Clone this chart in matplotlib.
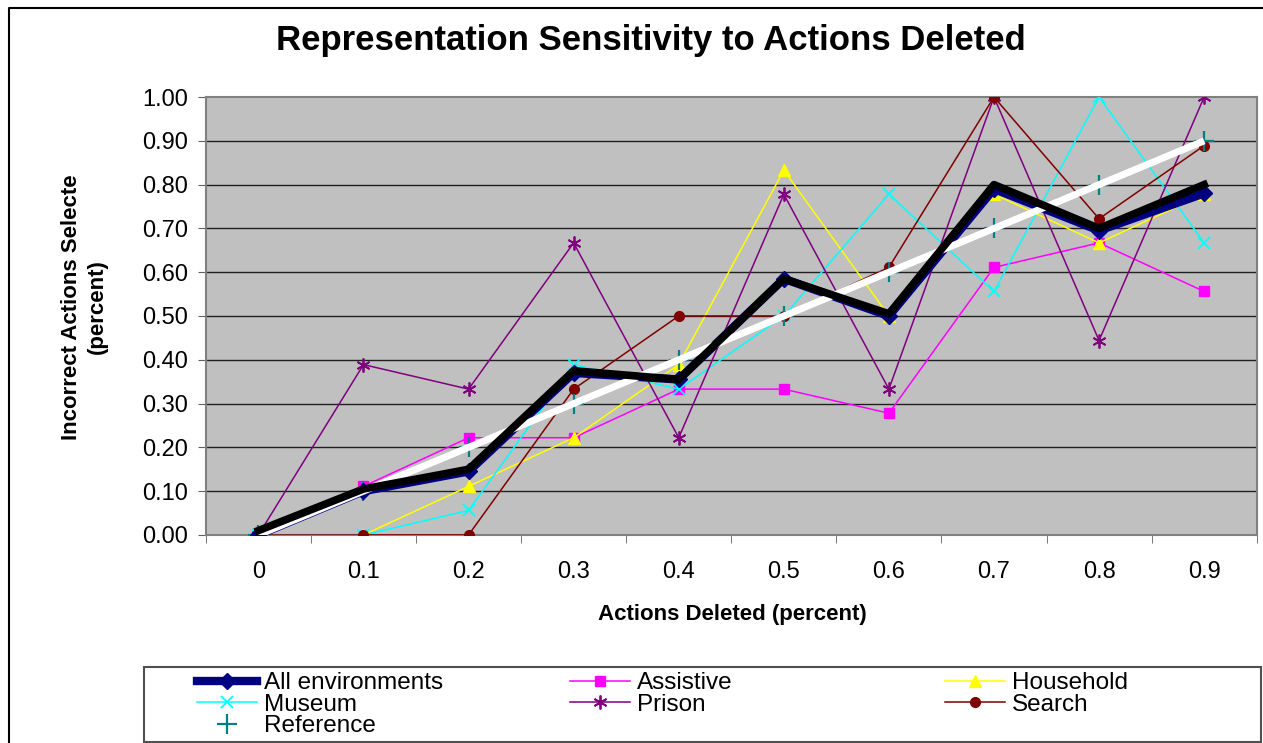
import matplotlib
matplotlib.use("Agg")
import matplotlib.pyplot as plt
from matplotlib.lines import Line2D
from matplotlib.patches import Rectangle

plt.rcParams["font.family"] = ["Liberation Sans", "DejaVu Sans"]

# --- data ---
categories = ["0", "0.1", "0.2", "0.3", "0.4", "0.5", "0.6", "0.7", "0.8", "0.9"]
all_env = [0.0, 0.10, 0.145, 0.37, 0.355, 0.585, 0.50, 0.79, 0.695, 0.78]
overall = [0.01, 0.105, 0.15, 0.375, 0.355, 0.585, 0.505, 0.80, 0.70, 0.80]
assistive = [0.0, 0.111, 0.222, 0.222, 0.333, 0.333, 0.278, 0.611, 0.667, 0.556]
household = [0.0, 0.0, 0.111, 0.222, 0.389, 0.833, 0.50, 0.778, 0.667, 0.778]
museum = [0.0, 0.0, 0.056, 0.389, 0.333, 0.50, 0.778, 0.556, 1.0, 0.667]
prison = [0.0, 0.389, 0.333, 0.667, 0.222, 0.778, 0.333, 1.0, 0.444, 1.0]
search = [0.0, 0.0, 0.0, 0.333, 0.50, 0.50, 0.611, 1.0, 0.722, 0.889]
reference = [0.0, 0.1, 0.2, 0.3, 0.4, 0.5, 0.6, 0.7, 0.8, 0.9]
y_ticks = [0.0, 0.1, 0.2, 0.3, 0.4, 0.5, 0.6, 0.7, 0.8, 0.9, 1.0]

x = list(range(len(categories)))
thin = 1.1
W, H = 1263, 743

# style per series (shared by plot and legend)
styles = {
    "All environments": dict(color="#000080", lw=6, marker="D", ms=8),
    "Assistive": dict(color="#FF00FF", lw=thin, marker="s", ms=7),
    "Household": dict(color="#FFFF00", lw=thin, marker="^", ms=9),
    "Museum": dict(color="#00FFFF", lw=thin, marker="x", ms=9, mew=1.3),
    "Prison": dict(color="#800080", lw=thin, marker=(6, 2, 0), ms=10, mew=1.3),
    "Search": dict(color="#800000", lw=thin, marker="o", ms=7),
    "Reference": dict(color="#008080", lw=0, marker="+", ms=14, mew=1.6),
}

fig = plt.figure(figsize=(12.63, 7.43), dpi=100)
ax = fig.add_axes([0.163, 0.280, 0.832, 0.5894])
ax.set_facecolor("#C0C0C0")

for yv in y_ticks[1:-1]:
    ax.axhline(yv, color="#202020", lw=1.0, zorder=1)

ax.plot(x, assistive, zorder=3, **styles["Assistive"])
ax.plot(x, household, zorder=3, **styles["Household"])
ax.plot(x, museum, zorder=3, **styles["Museum"])
ax.plot(x, prison, zorder=3, **styles["Prison"])
ax.plot(x, search, zorder=3, **styles["Search"])
ax.plot(x, reference, zorder=3, **styles["Reference"])
ax.plot(x, all_env, zorder=4, **styles["All environments"])
ax.plot(x, reference, color="white", lw=5, zorder=5, solid_capstyle="butt")
ax.plot(x, overall, color="black", lw=5.5, zorder=6)

ax.set_xlim(-0.5, 9.5)
ax.set_ylim(0, 1.0)
ax.set_xticks(x)
ax.set_xticklabels(categories, fontsize=17)
ax.set_xticks([i - 0.5 for i in range(11)], minor=True)
ax.tick_params(axis="x", which="major", length=0, pad=19)
ax.tick_params(axis="x", which="minor", length=6, color="#606060", direction="out")
ax.set_yticks(y_ticks)
ax.set_yticklabels([f"{v:.2f}" for v in y_ticks], fontsize=17)
ax.tick_params(axis="y", length=6, color="#606060", direction="out", pad=7)
for s in ax.spines.values():
    s.set_color("#808080")
    s.set_linewidth(1.5)

fig.text(0.515, 0.946, "Representation Sensitivity to Actions Deleted",
         ha="center", va="center", fontsize=25, fontweight="bold")
fig.text(0.58, 0.1736, "Actions Deleted (percent)", ha="center", va="center",
         fontsize=16, fontweight="bold")
fig.text(0.0665, 0.587, "Incorrect Actions Selecte\n(percent)", ha="center",
         va="center", fontsize=16, fontweight="bold", rotation=90, linespacing=1.3)

# --- legend: three columns placed like the original ---
legend_cols = [
    (["All environments", "Museum", "Reference"], 0.1563),
    (["Assistive", "Prison"], 0.4515),
    (["Household", "Search"], 0.7485),
]
for names, x0 in legend_cols:
    hs = [Line2D([], [], **styles[n]) for n in names]
    fig.legend(hs, names, loc="upper left", bbox_to_anchor=(x0, 1 - 672 / H),
               fontsize=17.5, frameon=False, borderpad=0, labelspacing=-0.02,
               handlelength=2.45, handletextpad=0.3, borderaxespad=0)

# legend frame
fig.patches.append(Rectangle((144 / W, 1 - 742 / H), (1261 - 144) / W, 75 / H,
                             transform=fig.transFigure, fill=False,
                             edgecolor="#505050", lw=1.5))
# outer chart border (top and left only are visible)
fig.add_artist(Line2D([9 / W, 9 / W, 1.0], [0.0, 1 - 8 / H, 1 - 8 / H],
                      transform=fig.transFigure, color="black", lw=1.5))

fig.savefig("out.png", dpi=100)
